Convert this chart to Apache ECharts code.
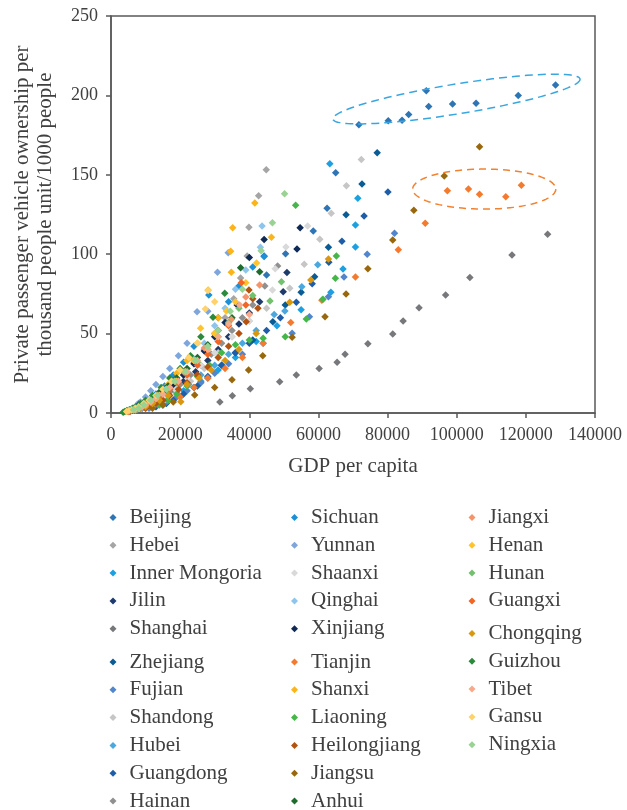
<!DOCTYPE html>
<html>
<head>
<meta charset="utf-8">
<script src="https://cdn.jsdelivr.net/npm/echarts@6/dist/echarts.min.js"></script>
<style>
html,body{margin:0;padding:0;background:#fff;}
#chart{width:627px;height:810px;}
</style>
</head>
<body>
<div id="chart"></div>
<script>
// ---- Data: [GDP per capita, private vehicles per 1000 people] ----
const Beijing = [[45000,86.9],[44300,98.9],[50500,100.3],[58500,114.6],[62500,128.9],[65000,151.3],[71700,181.5],[80200,184],[84200,184.3],[86100,188],[91200,203],[91900,193],[98800,194.6],[105600,195],[117800,200],[128600,206.5]];
const Hebei = [[8000,3],[10000,5],[12500,8],[15000,12],[18000,17],[21000,24],[24000,32],[27000,40],[30000,50],[33000,60],[35500,72],[37500,85],[39400,98.9],[39900,116.9],[42700,136.8],[44900,153.2]];
const InnerMongoria = [[9000,3],[12000,5],[16000,9],[21000,14],[26000,20],[31000,27],[36000,35],[42000,45],[48000,55],[55000,65],[63600,76],[67100,90.7],[70700,104.5],[70700,118.4],[71400,135.2],[63300,157]];
const Jilin = [[8000,6],[9500,6.5],[11000,7],[12800,8.5],[15000,11],[18000,15],[21000,20],[24500,26],[28000,33],[31000,40],[34000,48],[37000,56],[40000,63],[43000,70],[49800,76.4],[50900,88.4]];
const Shanghai = [[31500,6.9],[35100,10.9],[40300,15.3],[48800,19.7],[53600,23.9],[60200,28.1],[65400,31.9],[67700,37],[74300,43.6],[81500,49.7],[84500,57.9],[89100,66.3],[96800,74.3],[103800,85.4],[116000,99.5],[126300,112.5]];
const Zhejiang = [[13000,4],[16000,6],[20000,10],[24000,16],[28000,22],[32000,30],[36000,38],[41000,46],[46800,57.5],[50400,68],[55000,76],[58900,85.8],[62900,104.3],[68000,124.9],[72600,144.2],[77000,163.9]];
const Fujian = [[11000,3],[13500,5],[16000,7],[19000,10],[22000,14],[26000,19],[30000,25],[34000,31],[38000,37],[44000,44],[52400,50.2],[57400,60.6],[62900,73.2],[67400,85.6],[74100,99.9],[82000,113.2]];
const Shandong = [[10000,3],[12500,5],[15500,8],[19000,13],[23000,20],[27000,28],[31000,38],[35000,48],[40000,58],[45000,66],[51700,78.5],[55900,93.6],[60400,109.4],[63700,125.8],[68100,143.1],[72400,159.7]];
const Hubei = [[7500,2],[9000,3],[11000,4],[13500,6],[16000,9],[19000,13],[22500,18],[26000,24],[30000,30],[34000,37],[38000,44],[42000,52],[47200,62.1],[50300,64.2],[55200,79.5],[59800,93.4]];
const Guangdong = [[15000,5],[18000,8],[21000,12],[25000,17],[28000,23],[32000,30],[36000,38],[40000,44],[45000,52],[49000,60],[53600,69.7],[58200,81.4],[63000,95],[66800,108.1],[73200,124.1],[80100,139.2]];
const Hainan = [[7000,2],[8500,3],[10000,4],[12000,6],[14500,9],[17000,13],[20000,18],[23000,24],[26000,30],[29000,37],[32000,44],[35000,52],[38000,60],[41000,68],[44500,80],[48200,92.6]];
const Sichuan = [[5500,1],[6500,2],[7500,3],[9000,5],[11000,8],[13000,12],[15500,17],[18000,24],[21000,32],[24000,42],[28300,74.3],[31000,60],[34000,70],[37000,80],[41000,92],[44300,98.6]];
const Yunnan = [[4500,1],[5500,2],[6500,3],[7500,5],[8500,7],[10000,10],[11500,14],[13000,18],[15000,23],[17000,28],[19500,36],[22000,44],[24900,63.8],[28000,64],[30800,88.6],[33900,100.9]];
const Shaanxi = [[5000,1],[6500,2],[8000,3],[10000,5],[12000,7],[15000,10],[18500,15],[22000,22],[26000,30],[30000,38],[35000,48],[40000,58],[46700,77.5],[47500,90.9],[50600,104.5],[56900,117.8]];
const Qinghai = [[6000,2],[7500,3],[9000,5],[11000,7],[13000,10],[15500,14],[18000,19],[21000,26],[24000,34],[27000,44],[30000,55],[33000,66],[36000,78],[39000,90],[43200,104.3],[43700,117.8]];
const Xinjiang = [[8000,5],[9500,5.5],[11000,6.5],[13000,9],[15500,13],[18000,18],[21000,24],[24000,31],[27000,39],[30000,48],[33000,57],[36500,68],[40000,98],[44300,109.2],[53800,103.3],[54700,116.7]];
const Tianjin = [[20000,10],[24000,16],[28000,22],[33000,28],[38000,35],[44000,44],[52000,57],[61000,71],[70700,85.6],[83100,102.8],[90900,119.5],[97300,140],[103400,141],[106600,137.7],[114200,136.2],[118700,143.4]];
const Shanxi = [[7000,2],[8500,4],[10000,6],[12000,9],[14000,13],[16500,18],[19000,25],[22000,33],[25000,44],[28100,77.5],[31000,60],[34600,101.8],[34800,88.6],[35200,116.7],[41600,132.2],[46400,110.6]];
const Liaoning = [[14000,5],[16500,8],[19000,12],[22000,17],[25000,23],[28500,30],[32000,38],[36000,43],[40000,46],[44000,47],[50400,48],[56500,59.2],[61300,71.6],[64900,84.8],[65200,98.9],[53400,130.8]];
const Heilongjiang = [[10000,3],[11500,4],[13000,6],[15000,8],[17000,11],[19500,15],[22000,19],[25000,24],[28000,29],[31000,35],[34000,42],[37000,50],[39100,57.5],[39900,77.5],[41000,72],[42500,66]];
const Jiangsu = [[12000,3],[15000,5],[18000,7],[24200,11.3],[30000,16],[35000,21],[39800,27],[43900,36],[52400,47.7],[61900,60.6],[68000,75],[74300,90.9],[81500,109],[87600,127.6],[96400,149.2],[106600,167.7]];
const Anhui = [[5000,1],[6000,2],[7000,3],[8500,4],[10000,6],[12000,9],[14000,13],[16500,17],[19000,22],[22000,28],[25000,35],[28000,43],[31000,52],[35000,60],[37500,91.5],[43000,89]];
const Jiangxi = [[5000,1],[6000,2],[7000,3],[8500,4],[10000,6],[12000,8],[14000,11],[16000,15],[18500,20],[21000,26],[24000,33],[27000,41],[30000,50],[34800,58.9],[39000,73],[43000,80.6]];
const Henan = [[6000,2],[7000,3],[8500,4],[10000,6],[12000,8],[14000,11],[16500,15],[19000,20],[21500,26],[24000,33],[25900,53.3],[30000,50],[33400,64.2],[36000,70],[39000,82],[42100,94.5]];
const Hunan = [[7000,2],[8500,3],[10000,5],[12000,7],[14000,10],[16500,14],[19000,19],[22000,25],[25000,32],[28000,40],[31000,48],[34000,57],[37000,66],[41000,74],[46000,70.5],[49300,82.7]];
const Guangxi = [[5500,1],[6500,2],[7500,3],[9000,4],[10500,6],[12500,8],[14500,11],[17000,15],[19500,19],[22000,24],[25000,30],[28000,37],[31000,45],[34000,55],[37700,82],[39000,68]];
const Chongqing = [[7000,2],[8500,3],[10000,4],[12000,6],[14000,8],[16500,11],[20200,7.1],[22000,18],[25500,22],[29000,27],[33000,33],[37000,40],[42000,50],[51700,69.7],[57800,83.8],[62900,97]];
const Guizhou = [[3500,0.5],[4000,1],[4600,1.5],[5300,2],[6200,3],[7200,4],[8500,6],[10000,8],[12000,11],[14500,16],[17000,22],[20000,28],[23000,36],[26000,48],[29500,60.3],[32900,75.4]];
const Tibet = [[7000,2],[8000,3],[9000,4],[10000,5],[11500,7],[13000,9],[15000,12],[17000,16],[19500,20],[22000,26],[25000,33],[28000,40],[31000,48],[34000,56],[37200,68],[40000,62]];
const Gansu = [[4500,1],[5200,1.5],[6000,2],[7000,3],[8000,4],[9500,6],[11000,8],[13000,11],[15000,15],[17500,20],[20000,27],[22500,35],[25000,44],[27300,65.5],[28100,77.1],[30000,70]];
const Ningxia = [[6500,2],[8000,3],[9500,5],[11500,8],[13500,11],[16000,15],[18500,20],[21500,26],[24500,33],[28000,42],[31000,52],[34500,64],[38000,78],[43400,102.2],[46700,119.8],[50200,138.1]];

const provinceNames = ['Beijing','Hebei','Inner Mongoria','Jilin','Shanghai','Zhejiang','Fujian','Shandong','Hubei','Guangdong','Hainan','Sichuan','Yunnan','Shaanxi','Qinghai','Xinjiang','Tianjin','Shanxi','Liaoning','Heilongjiang','Jiangsu','Anhui','Jiangxi','Henan','Hunan','Guangxi','Chongqing','Guizhou','Tibet','Gansu','Ningxia'];
const provinceData = [Beijing,Hebei,InnerMongoria,Jilin,Shanghai,Zhejiang,Fujian,Shandong,Hubei,Guangdong,Hainan,Sichuan,Yunnan,Shaanxi,Qinghai,Xinjiang,Tianjin,Shanxi,Liaoning,Heilongjiang,Jiangsu,Anhui,Jiangxi,Henan,Hunan,Guangxi,Chongqing,Guizhou,Tibet,Gansu,Ningxia];
const xTicks = [0,20000,40000,60000,80000,100000,120000,140000];
const yTicks = [0,50,100,150,200,250];

// annotation rings (data units): two ends of the long axis + half height in y units
const beijingRing = {from:[64170,185.1], to:[135670,210.3], half:9.4};
const tianjinRing = {from:[87260,141], to:[128660,141], half:12.6};

// ---- Styles ----
const colors = ['#2E75B6','#A5A5A5','#1BA1E2','#1F3B6B','#77787B','#0B5C94','#5286CC','#C6C6C6','#4BA8DF','#1E5EA8','#909090',
  '#1C8FD6','#7FA6DC','#D9D9D9','#8EC5EC','#0E2A55','#F47A30','#FBB41A','#45B649','#B4530F','#99680E','#1D6B2D',
  '#F5946A','#FFC42C','#73C16E','#F26522','#D9980F','#2C8A3C','#F7A98B','#FFD26B','#98D393'];
const FONT = 'Liberation Serif';
const TXT = '#404040';

const series = provinceNames.map((n,i)=>({
  name:n, type:'scatter', data:provinceData[i], symbol:'diamond', symbolSize:7.5,
  itemStyle:{color:colors[i], opacity:1}, emphasis:{disabled:true}, silent:true
}));

function legendBlock(names, left, top){
  return {
    data:names, orient:'vertical', left:left, top:top, height:240, padding:0,
    icon:'diamond', itemWidth:7, itemHeight:7, itemGap:6.8,
    selectedMode:false,
    textStyle:{fontFamily:FONT, fontSize:21, color:TXT, lineHeight:21, padding:[0,0,0,8]}
  };
}

const option = {
  animation:false,
  backgroundColor:'#fff',
  color:colors,
  textStyle:{fontFamily:FONT},
  grid:{left:111, right:32, top:16, bottom:397, show:true, borderColor:'#595959', borderWidth:1.5, containLabel:false},
  xAxis:{
    type:'value', min:xTicks[0], max:xTicks[xTicks.length-1], interval:20000,
    name:'GDP per capita', nameLocation:'middle', nameGap:43,
    nameTextStyle:{fontFamily:FONT, fontSize:21, color:TXT},
    axisLine:{show:true, lineStyle:{color:'#595959', width:1.5}},
    axisTick:{show:true, inside:false, length:5, lineStyle:{color:'#595959', width:1.5}},
    axisLabel:{fontFamily:FONT, fontSize:18, color:TXT, margin:13, formatter:v=>String(v)},
    splitLine:{show:false}
  },
  yAxis:{
    type:'value', min:yTicks[0], max:yTicks[yTicks.length-1], interval:50,
    name:'Private passenger vehicle ownership per\nthousand people unit/1000 people',
    nameLocation:'middle', nameGap:54, nameRotate:90,
    nameTextStyle:{fontFamily:FONT, fontSize:21, color:TXT, lineHeight:23},
    axisLine:{show:true, lineStyle:{color:'#595959', width:1.5}},
    axisTick:{show:true, inside:false, length:5, lineStyle:{color:'#595959', width:1.5}},
    axisLabel:{fontFamily:FONT, fontSize:18, color:TXT, margin:13, formatter:v=>String(v)},
    splitLine:{show:false}
  },
  legend:[
    legendBlock(provinceNames.slice(0,5), 109.5, 507),
    legendBlock(provinceNames.slice(5,11), 109.5, 651.5),
    legendBlock(provinceNames.slice(11,16), 291, 507),
    legendBlock(provinceNames.slice(16,22), 291, 651.5),
    legendBlock(provinceNames.slice(22,26), 468.5, 507),
    legendBlock(provinceNames.slice(26,31), 468.5, 623)
  ],
  series:series
};

const chart = echarts.init(document.getElementById('chart'), null, {renderer:'canvas'});
chart.setOption(option);

function ringPolygon(ring){
  const a = chart.convertToPixel({gridIndex:0}, ring.from);
  const b = chart.convertToPixel({gridIndex:0}, ring.to);
  const cxd = (ring.from[0]+ring.to[0])/2, cyd = (ring.from[1]+ring.to[1])/2;
  const c0 = chart.convertToPixel({gridIndex:0}, [cxd, cyd]);
  const c1 = chart.convertToPixel({gridIndex:0}, [cxd, cyd+ring.half]);
  const ry = Math.abs(c1[1]-c0[1]);
  const cx = (a[0]+b[0])/2, cy = (a[1]+b[1])/2;
  const rx = Math.hypot(b[0]-a[0], b[1]-a[1])/2;
  const ang = Math.atan2(b[1]-a[1], b[0]-a[0]);
  const pts = [];
  for(let k=0;k<120;k++){
    const t = k/120*Math.PI*2;
    const ex = rx*Math.cos(t), ey = ry*Math.sin(t);
    pts.push([cx + ex*Math.cos(ang) - ey*Math.sin(ang), cy + ex*Math.sin(ang) + ey*Math.cos(ang)]);
  }
  return pts;
}

chart.setOption({
  graphic:[
    {type:'polygon', z:100, silent:true, shape:{points:ringPolygon(beijingRing)},
     style:{fill:null, stroke:'#3AA6E0', lineWidth:1.5, lineDash:[8,5]}},
    {type:'polygon', z:100, silent:true, shape:{points:ringPolygon(tianjinRing)},
     style:{fill:null, stroke:'#F4812F', lineWidth:1.5, lineDash:[7,5]}}
  ]
});
</script>
</body>
</html>
